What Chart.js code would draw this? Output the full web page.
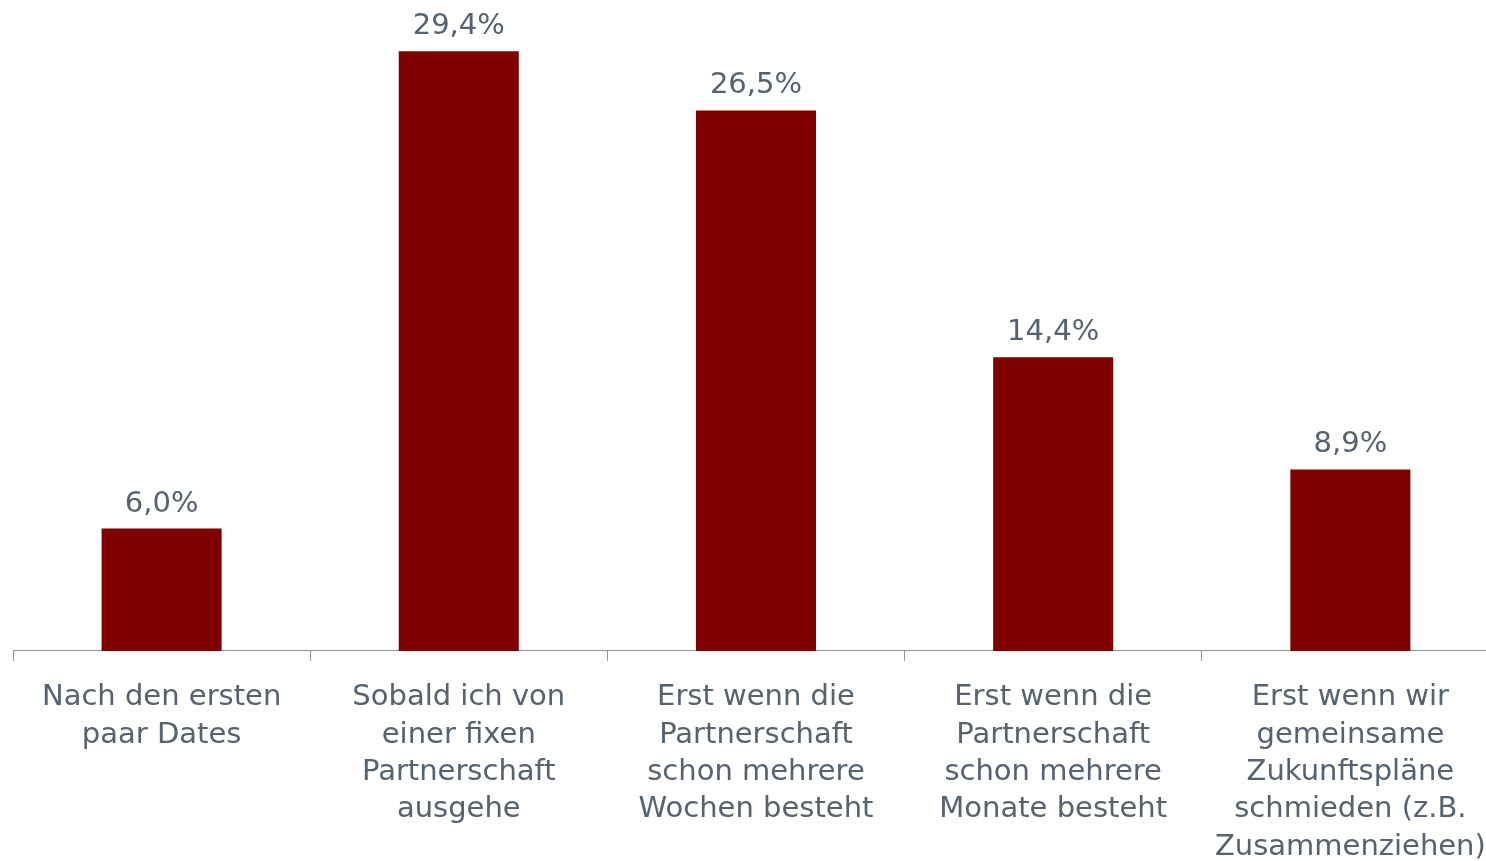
<!DOCTYPE html>
<html>
<head>
<meta charset="utf-8">
<script src="https://cdn.jsdelivr.net/npm/chart.js@4"></script>
<style>
  html, body { margin: 0; padding: 0; background: #fff; overflow: hidden; }
  #wrap { width: 1504px; height: 884px; }
</style>
</head>
<body>
<div id="wrap"><canvas id="chart"></canvas></div>
<script>
// Chart data
const categories = [
    ['Nach den ersten', 'paar Dates'],
    ['Sobald ich von', 'einer fixen', 'Partnerschaft', 'ausgehe'],
    ['Erst wenn die', 'Partnerschaft', 'schon mehrere', 'Wochen besteht'],
    ['Erst wenn die', 'Partnerschaft', 'schon mehrere', 'Monate besteht'],
    ['Erst wenn wir', 'gemeinsame', 'Zukunftspläne', 'schmieden (z.B.', 'Zusammenziehen)']
];
const values = [6.0, 29.4, 26.5, 14.4, 8.9];

const textColor = '#56626f';
const axisColor = '#8a949e';
const barColor = '#800000';
const fontFamily = "'DejaVu Sans', Verdana, sans-serif";

// Draw value labels above the bars
const valueLabels = {
    id: 'valueLabels',
    afterDatasetsDraw(chart) {
        const ctx = chart.ctx;
        const meta = chart.getDatasetMeta(0);
        ctx.save();
        ctx.font = '29px ' + fontFamily;
        ctx.fillStyle = textColor;
        ctx.textAlign = 'center';
        ctx.textBaseline = 'alphabetic';
        meta.data.forEach((bar, i) => {
            const txt = values[i].toFixed(1).replace('.', ',') + '%';
            ctx.fillText(txt, bar.x, bar.y - 17);
        });
        ctx.restore();
    }
};

new Chart(document.getElementById('chart'), {
    type: 'bar',
    data: {
        labels: categories,
        datasets: [{
            data: values,
            backgroundColor: barColor,
            borderWidth: 0,
            barPercentage: 0.404,
            categoryPercentage: 1.0
        }]
    },
    options: {
        responsive: true,
        maintainAspectRatio: false,
        animation: false,
        layout: { padding: { left: 13, right: 2, top: 39, bottom: 0 } },
        plugins: {
            legend: { display: false },
            tooltip: { enabled: false }
        },
        scales: {
            x: {
                offset: true,
                grid: {
                    display: true,
                    drawOnChartArea: false,
                    drawTicks: true,
                    tickLength: 10,
                    color: axisColor,
                    offset: true
                },
                border: { display: true, color: axisColor, width: 1 },
                ticks: {
                    color: textColor,
                    font: { family: fontFamily, size: 29, lineHeight: 1.29 },
                    padding: 18,
                    maxRotation: 0,
                    minRotation: 0,
                    autoSkip: false
                }
            },
            y: {
                display: false,
                min: 0,
                max: 30
            }
        }
    },
    plugins: [valueLabels]
});
</script>
</body>
</html>
